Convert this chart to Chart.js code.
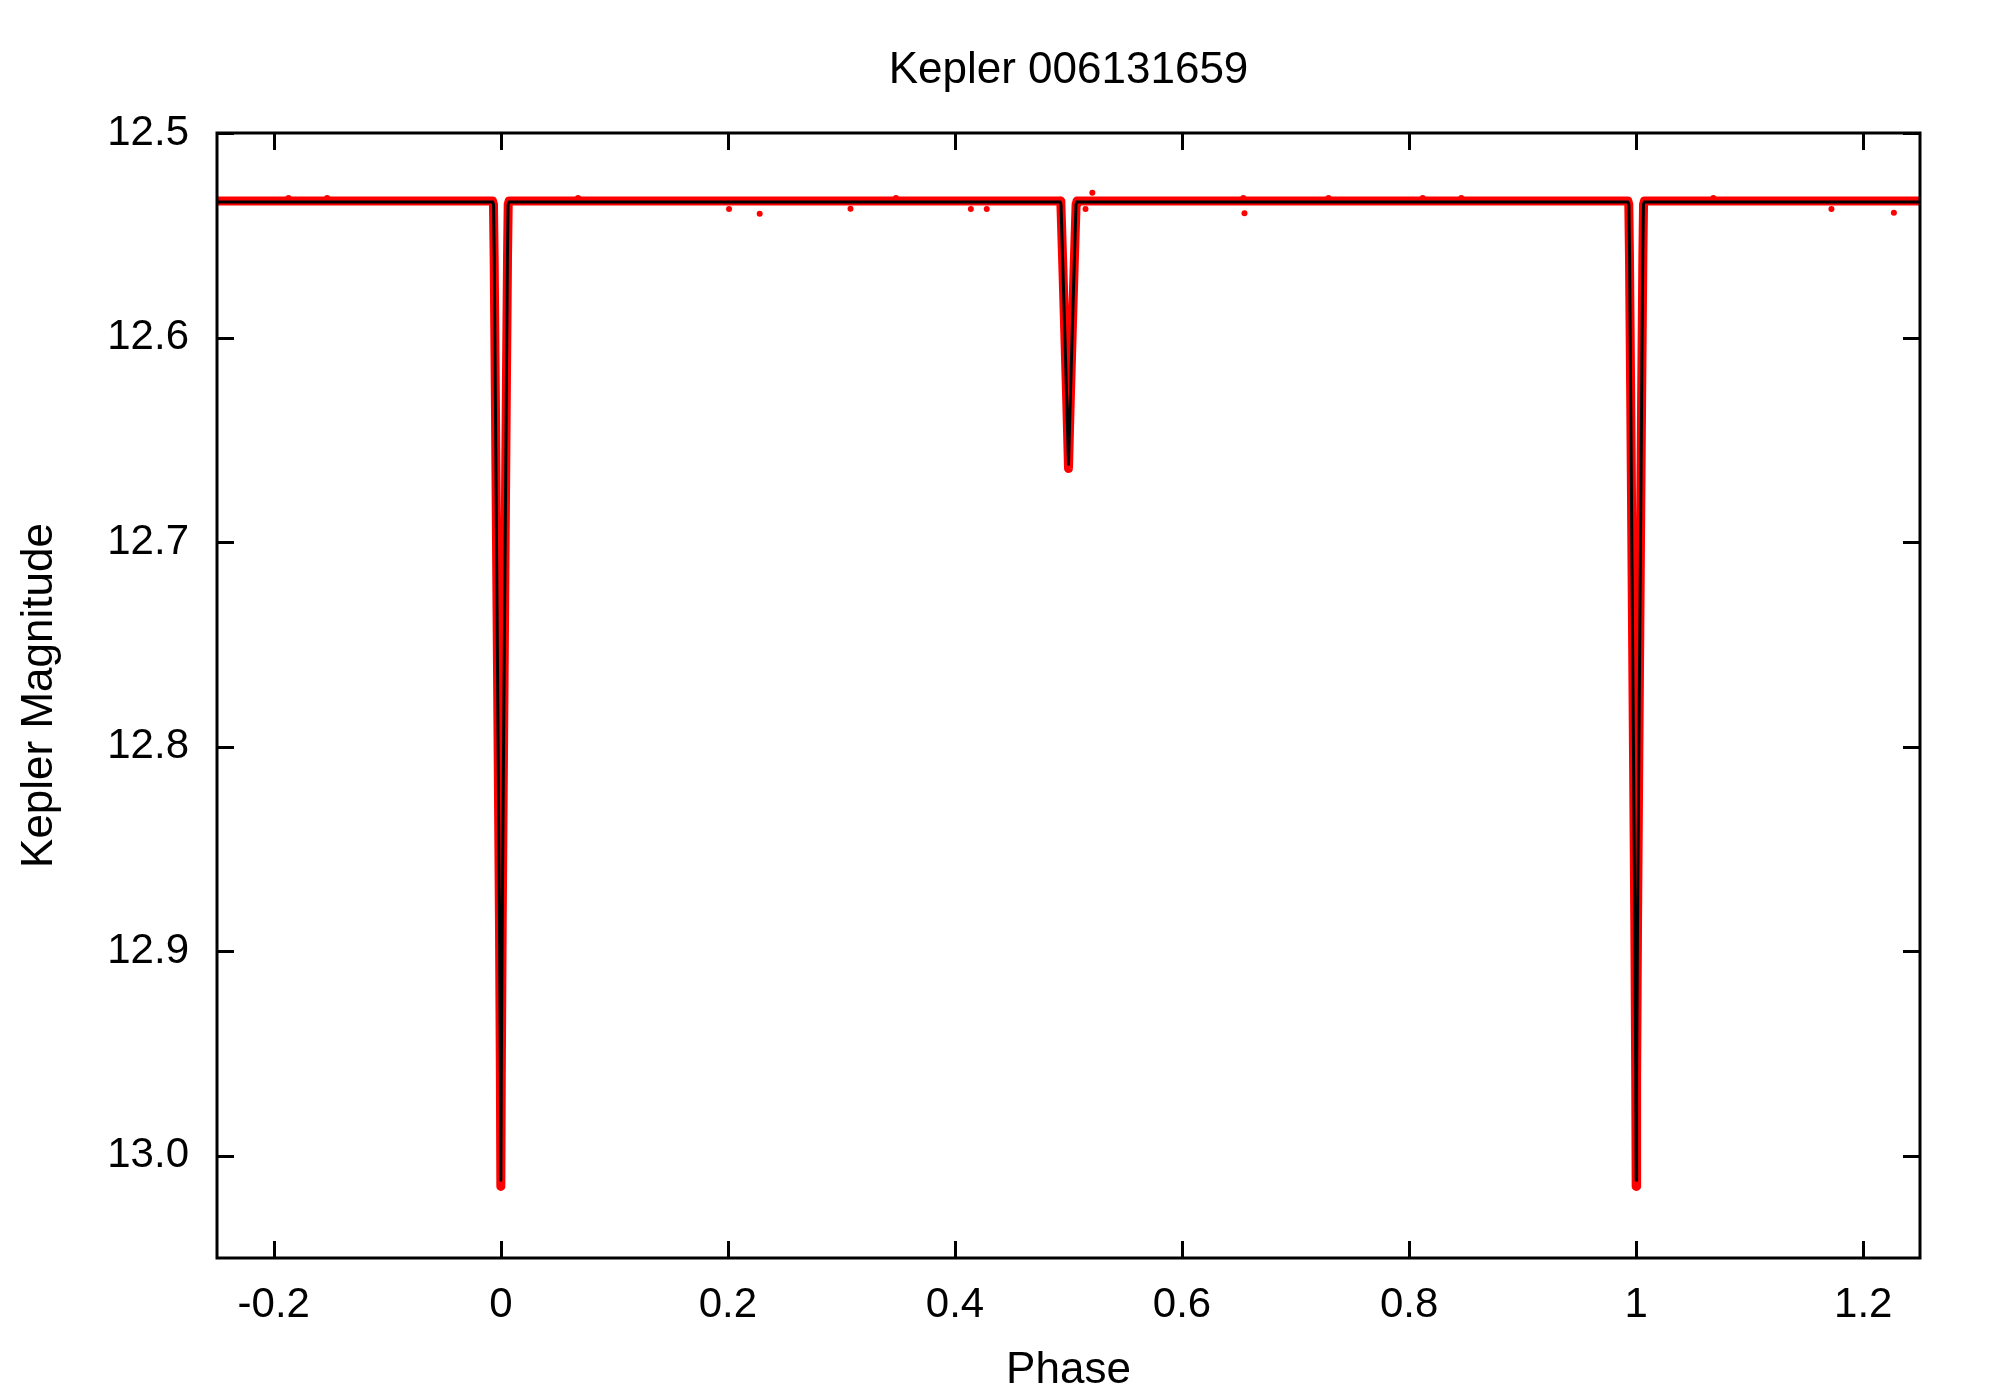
<!DOCTYPE html>
<html>
<head>
<meta charset="utf-8">
<script src="https://cdn.jsdelivr.net/npm/chart.js@4.4.1/dist/chart.umd.min.js"></script>
<style>
  html, body { margin: 0; padding: 0; background: #fff; }
  #wrap { width: 2000px; height: 1400px; }
</style>
</head>
<body>
<div id="wrap"><canvas id="lcChart" width="2000" height="1400"></canvas></div>
<script>
const chartTitle = "Kepler 006131659";
const xTitle = "Phase";
const yTitle = "Kepler Magnitude";

// tick positions and their labels
const xTicks = [-0.2, 0, 0.2, 0.4, 0.6, 0.8, 1, 1.2];
const xTickLabels = ["-0.2", "0", "0.2", "0.4", "0.6", "0.8", "1", "1.2"];
const yTicks = [12.5, 12.6, 12.7, 12.8, 12.9, 13.0];
const yTickLabels = ["12.5", "12.6", "12.7", "12.8", "12.9", "13.0"];

// model light curve (black line)
const modelPhase = [
  -0.25, -0.0072, -0.0064, -0.0058, -0.0048, -0.0036, -0.0024, -0.0012, -0.0004, 0.0,
  0.0004, 0.0012, 0.0024, 0.0036, 0.0048, 0.0058, 0.0064, 0.0072,
  0.4927, 0.4934, 0.4950, 0.4967, 0.4984, 0.5000, 0.5016, 0.5033, 0.5050, 0.5066, 0.5073,
  0.9928, 0.9936, 0.9942, 0.9952, 0.9964, 0.9976, 0.9988, 0.9996, 1.0,
  1.0004, 1.0012, 1.0024, 1.0036, 1.0048, 1.0058, 1.0064, 1.0072, 1.25
];
const modelMag = [
  12.5337, 12.5337, 12.5350, 12.5600, 12.6300, 12.7150, 12.8000, 12.8870, 12.9600, 13.0120,
  12.9600, 12.8870, 12.8000, 12.7150, 12.6300, 12.5600, 12.5350, 12.5337,
  12.5337, 12.5350, 12.5650, 12.5970, 12.6300, 12.6620, 12.6300, 12.5970, 12.5650, 12.5350, 12.5337,
  12.5337, 12.5350, 12.5600, 12.6300, 12.7150, 12.8000, 12.8870, 12.9600, 13.0120,
  12.9600, 12.8870, 12.8000, 12.7150, 12.6300, 12.5600, 12.5350, 12.5337, 12.5337
];

// observed points (red band)
const obsPhase = [
  -0.25, -0.0073, -0.0065, -0.0059, -0.0048, -0.0036, -0.0024, -0.0012, -0.0004, 0.0,
  0.0004, 0.0012, 0.0024, 0.0036, 0.0048, 0.0059, 0.0065, 0.0073,
  0.4926, 0.4933, 0.4950, 0.4967, 0.4984, 0.5000, 0.5016, 0.5033, 0.5050, 0.5067, 0.5074,
  0.9927, 0.9935, 0.9941, 0.9952, 0.9964, 0.9976, 0.9988, 0.9996, 1.0,
  1.0004, 1.0012, 1.0024, 1.0036, 1.0048, 1.0059, 1.0065, 1.0073, 1.25
];
const obsMag = [
  12.5333, 12.5333, 12.5348, 12.5600, 12.6300, 12.7150, 12.8000, 12.8870, 12.9620, 13.0150,
  12.9620, 12.8870, 12.8000, 12.7150, 12.6300, 12.5600, 12.5348, 12.5333,
  12.5333, 12.5348, 12.5650, 12.5970, 12.6300, 12.6640, 12.6300, 12.5970, 12.5650, 12.5348, 12.5333,
  12.5333, 12.5348, 12.5600, 12.6300, 12.7150, 12.8000, 12.8870, 12.9620, 13.0150,
  12.9620, 12.8870, 12.8000, 12.7150, 12.6300, 12.5600, 12.5348, 12.5333, 12.5333
];

// stray observations standing out of the band
const outPhase = [-0.187, -0.153, 0.068, 0.201, 0.228, 0.308, 0.348, 0.414, 0.428, 0.515, 0.521,
  0.654, 0.655, 0.729, 0.812, 0.846, 1.068, 1.172, 1.227];
const outMag = [12.5318, 12.5318, 12.5318, 12.5372, 12.5395, 12.5370, 12.5318, 12.5372, 12.5372, 12.5372, 12.5292,
  12.5318, 12.5392, 12.5318, 12.5318, 12.5318, 12.5318, 12.5372, 12.5390];

const toPoints = (xs, ys) => xs.map((x, i) => ({ x: x, y: ys[i] }));

const FONT = "'Liberation Sans', Arial, Helvetica, sans-serif";

// gnuplot like frame: border box, inward ticks on all sides, centred title
const framePlugin = {
  id: "frame",
  afterDraw(chart) {
    const { ctx, chartArea: a, scales } = chart;
    const len = 17;
    ctx.save();
    ctx.strokeStyle = "#000";
    ctx.lineWidth = 3;
    ctx.beginPath();
    xTicks.forEach(v => {
      const px = Math.round(scales.x.getPixelForValue(v)) + 0.5;
      ctx.moveTo(px, a.bottom); ctx.lineTo(px, a.bottom - len);
      ctx.moveTo(px, a.top); ctx.lineTo(px, a.top + len);
    });
    yTicks.forEach(v => {
      const py = Math.round(scales.y.getPixelForValue(v)) + 0.5;
      ctx.moveTo(a.left, py); ctx.lineTo(a.left + len, py);
      ctx.moveTo(a.right, py); ctx.lineTo(a.right - len, py);
    });
    ctx.stroke();
    ctx.strokeRect(a.left, a.top, a.right - a.left, a.bottom - a.top);

    ctx.fillStyle = "#000";
    ctx.font = "44px " + FONT;
    ctx.textAlign = "center";
    ctx.textBaseline = "alphabetic";
    ctx.fillText(chartTitle, (a.left + a.right) / 2, 83);
    ctx.restore();
  }
};

new Chart(document.getElementById("lcChart"), {
  type: "line",
  data: {
    datasets: [
      {
        label: "model",
        data: toPoints(modelPhase, modelMag),
        borderColor: "#000",
        borderWidth: 3,
        borderJoinStyle: "round",
        pointRadius: 0,
        tension: 0
      },
      {
        label: "stray",
        data: toPoints(outPhase, outMag),
        showLine: false,
        pointRadius: 3,
        pointBorderWidth: 0,
        pointBackgroundColor: "rgb(255,0,0)"
      },
      {
        label: "observed",
        data: toPoints(obsPhase, obsMag),
        borderColor: "rgb(255,0,0)",
        borderWidth: 9,
        borderJoinStyle: "round",
        borderCapStyle: "round",
        pointRadius: 0,
        tension: 0
      }
    ]
  },
  options: {
    responsive: false,
    animation: false,
    devicePixelRatio: 1,
    layout: { padding: { top: 133, right: 80, bottom: 0, left: 0 } },
    plugins: {
      legend: { display: false },
      tooltip: { enabled: false },
      title: { display: false }
    },
    scales: {
      x: {
        type: "linear",
        min: -0.25,
        max: 1.25,
        grid: { display: false, drawTicks: false },
        border: { display: false },
        afterBuildTicks: s => { s.ticks = xTicks.map(v => ({ value: v })); },
        afterFit: s => { s.height = 142; },
        ticks: {
          padding: 22,
          color: "#000",
          maxRotation: 0,
          font: { family: FONT, size: 42 },
          callback: (v, i) => xTickLabels[i]
        },
        title: {
          display: true,
          text: xTitle,
          color: "#000",
          padding: { top: 0, bottom: 3 },
          font: { family: FONT, size: 44 }
        }
      },
      y: {
        type: "linear",
        reverse: true,
        min: 12.5,
        max: 13.05,
        grid: { display: false, drawTicks: false },
        border: { display: false },
        afterBuildTicks: s => { s.ticks = yTicks.map(v => ({ value: v })); },
        afterFit: s => { s.width = 217; },
        ticks: {
          padding: 28,
          color: "#000",
          font: { family: FONT, size: 42 },
          callback: (v, i) => yTickLabels[i]
        },
        title: {
          display: true,
          text: yTitle,
          color: "#000",
          padding: { top: 13, bottom: 0 },
          font: { family: FONT, size: 44 }
        }
      }
    }
  },
  plugins: [framePlugin]
});
</script>
</body>
</html>
